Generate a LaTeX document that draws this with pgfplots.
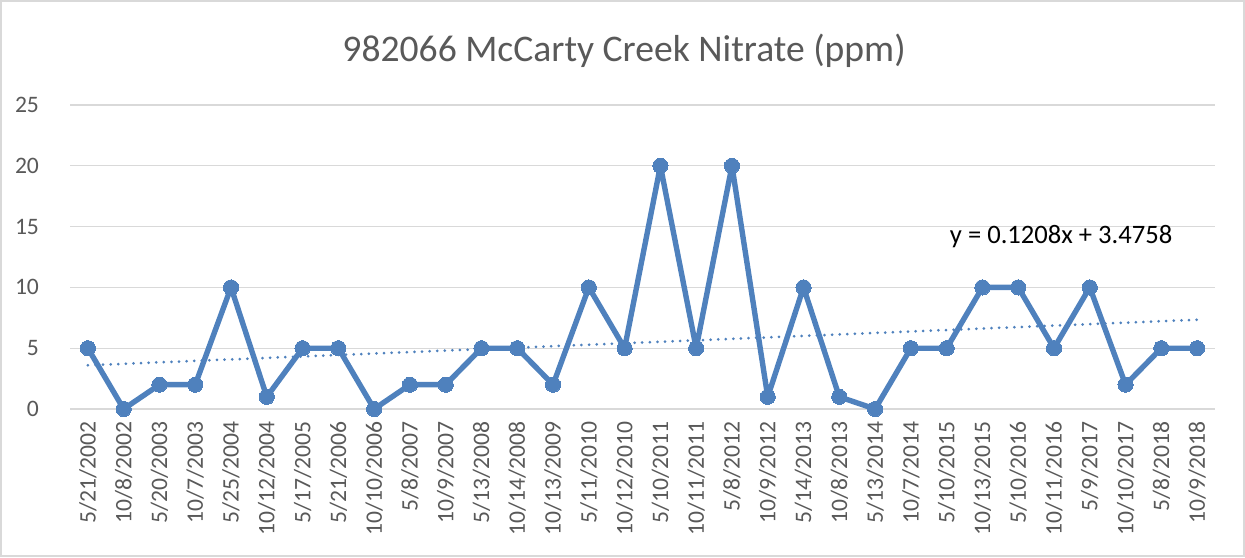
\documentclass[border=0pt]{standalone}
\usepackage{pgfplots}
\pgfplotsset{compat=1.18}
\usepackage{fontspec}
\setmainfont{Carlito}
\definecolor{serblue}{RGB}{79,129,189}
\definecolor{gridgray}{RGB}{217,217,217}
\definecolor{labgray}{RGB}{89,89,89}
\begin{document}
\begin{tikzpicture}
\useasboundingbox (0,0) rectangle (622.5pt,278.5pt);
\draw[gridgray,line width=0.8pt] (0.4pt,0.4pt) rectangle (622.1pt,278.1pt);
\node[font=\fontsize{18.8}{21}\selectfont,text=labgray] at (312pt,253pt) {982066 McCarty Creek Nitrate (ppm)};
\begin{axis}[
  at={(35pt,74pt)}, anchor=south west,
  scale only axis, width=572.5pt, height=152pt,
  xmin=-0.5, xmax=31.5, ymin=0, ymax=25,
  ytick={0,5,10,15,20,25},
  ymajorgrids, grid style={gridgray,line width=0.6pt},
  axis x line*=bottom, axis y line*=left,
  x axis line style={gridgray,line width=0.6pt,-},
  y axis line style={draw=none},
  xtick={0,...,31},
  major x tick style={draw=none},
  xticklabels={5/21/2002,10/8/2002,5/20/2003,10/7/2003,5/25/2004,10/12/2004,5/17/2005,5/21/2006,10/10/2006,5/8/2007,10/9/2007,5/13/2008,10/14/2008,10/13/2009,5/11/2010,10/12/2010,5/10/2011,10/11/2011,5/8/2012,10/9/2012,5/14/2013,10/8/2013,5/13/2014,10/7/2014,5/10/2015,10/13/2015,5/10/2016,10/11/2016,5/9/2017,10/10/2017,5/8/2018,10/9/2018},
  x tick label style={rotate=90,anchor=east,font=\fontsize{11.8}{13}\selectfont,text=labgray,inner sep=1pt},
  xticklabel shift=5pt,
  extra x ticks={-0.5,0.5,...,31.5},
  extra x tick labels={},
  extra x tick style={tick align=outside,major tick length=4pt,tick style={gridgray,line width=0.6pt},grid=none},
  y tick label style={font=\fontsize{11.8}{13}\selectfont,text=labgray},
  yticklabel style={/pgf/number format/assume math mode=true},
  ytick style={draw=none},
  yticklabel shift=12pt,
  clip=false,
]
\addplot[serblue,line width=2.7pt,line join=round,mark=*,mark size=3.8pt,mark options={fill=serblue,draw=serblue,line width=0pt}] coordinates {
(0,5)(1,0)(2,2)(3,2)(4,10)(5,1)(6,5)(7,5)(8,0)(9,2)(10,2)(11,5)(12,5)(13,2)(14,10)(15,5)(16,20)(17,5)(18,20)(19,1)(20,10)(21,1)(22,0)(23,5)(24,5)(25,10)(26,10)(27,5)(28,10)(29,2)(30,5)(31,5)
};
\addplot[serblue,line width=1.5pt,line cap=round,dash pattern=on 0pt off 3.8pt] coordinates {(0,3.5966)(31,7.3414)};
\node[font=\fontsize{13.3}{15}\selectfont,text=black] at (axis cs:27.2,14.2) {y = 0.1208x + 3.4758};
\end{axis}
\end{tikzpicture}
\end{document}
